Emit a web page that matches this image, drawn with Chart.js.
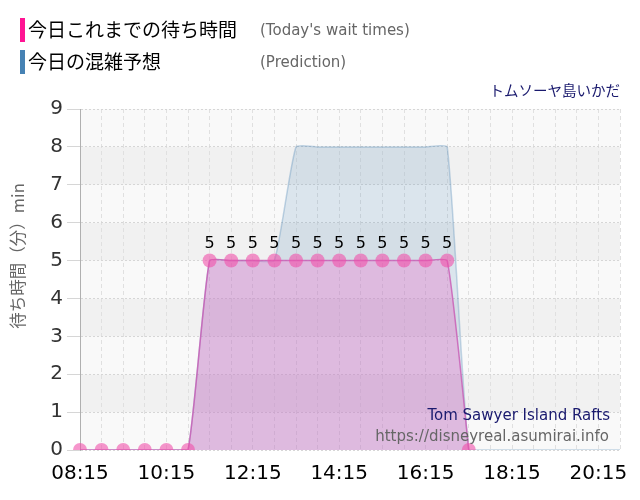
<!DOCTYPE html>
<html><head><meta charset="utf-8">
<script src="https://cdn.jsdelivr.net/npm/chart.js@4/dist/chart.umd.min.js"></script>
<style>
html,body{margin:0;padding:0;background:#fff;}
#wrap{position:relative;width:640px;height:500px;overflow:hidden;}
#c{position:absolute;left:0;top:0;}
.lg{position:absolute;left:20px;height:24px;font-family:"Noto Sans CJK JP";font-size:19px;line-height:24px;color:#000;white-space:nowrap;}
.lg .bar{position:absolute;left:0;top:0;width:5px;height:24px;}
.lg .jp{position:absolute;left:8px;top:-1px;}
.lg .en{position:absolute;left:240px;top:0;font-family:"DejaVu Sans";font-size:15px;color:#666;}
#ttl{position:absolute;right:20px;top:79px;font-family:"Noto Sans CJK JP";font-size:14.5px;color:#1a1a6e;white-space:nowrap;}
</style></head>
<body><div id="wrap">
<canvas id="c" width="640" height="500"></canvas>
<div class="lg" style="top:18px"><div class="bar" style="background:#ff1493"></div><span class="jp">今日これまでの待ち時間</span><span class="en">(Today's wait times)</span></div>
<div class="lg" style="top:50px"><div class="bar" style="background:#4682b4"></div><span class="jp">今日の混雑予想</span><span class="en">(Prediction)</span></div>
<div id="ttl">トムソーヤ島いかだ</div>
</div>
<script>
const times = ["08:15","08:45","09:15","09:45","10:15","10:45","11:15","11:45","12:15","12:45","13:15","13:45","14:15","14:45","15:15","15:45","16:15","16:45","17:15","17:45","18:15","18:45","19:15","19:45","20:15","20:45"];
const waitTimes = [0,0,0,0,0,0,5,5,5,5,5,5,5,5,5,5,5,5,0,null,null,null,null,null,null,null];
const prediction = [0,0,0,0,0,0,5,5,5,5,8,8,8,8,8,8,8,8,0,0,0,0,0,0,0,0];
const yTicks = [0,1,2,3,4,5,6,7,8,9];
const yTitle = "待ち時間（分）min";
const watermarkName = "Tom Sawyer Island Rafts";
const watermarkUrl = "https://disneyreal.asumirai.info";

const bands = {
  id:'bands',
  beforeDraw(chart){
    const {ctx, chartArea:a, scales:{y}} = chart;
    ctx.save();
    for(let v=0; v<9; v++){
      const top=y.getPixelForValue(v+1), bot=y.getPixelForValue(v);
      ctx.fillStyle = (v%2===0) ? '#f9f9f9' : '#f1f1f1';
      ctx.fillRect(a.left, top, a.right-a.left, bot-top);
    }
    ctx.restore();
  },
  afterDraw(chart){
    const {ctx} = chart;
    ctx.save();
    ctx.translate(18, 256);
    ctx.rotate(-Math.PI/2);
    ctx.font = '16.5px "Noto Sans CJK JP"';
    ctx.fillStyle = '#666';
    ctx.textAlign = 'center';
    ctx.textBaseline = 'middle';
    ctx.fillText(yTitle, 0, 0);
    ctx.restore();
  }
};
const labelsPlugin = {
  id:'vals',
  afterDatasetsDraw(chart){
    const {ctx} = chart;
    const meta = chart.getDatasetMeta(0);
    ctx.save();
    ctx.font = '16px "DejaVu Sans"';
    ctx.fillStyle = '#000';
    ctx.textAlign = 'center';
    ctx.textBaseline = 'alphabetic';
    meta.data.forEach((p,i)=>{
      const v = waitTimes[i];
      if(v!==null && v>0){ ctx.fillText(String(v), p.x, p.y-13); }
    });
    const a = chart.chartArea;
    ctx.textAlign='right';
    ctx.font='15px "DejaVu Sans"';
    ctx.fillStyle='#1a1a6e';
    ctx.fillText(watermarkName, a.right-10, a.bottom-30);
    ctx.fillStyle='#666';
    ctx.fillText(watermarkUrl, a.right-11, a.bottom-9);
    ctx.restore();
  }
};

new Chart(document.getElementById('c'), {
  type:'line',
  data:{
    labels: times,
    datasets:[
      {label:'今日これまでの待ち時間', data: waitTimes, borderColor:'rgba(200,90,180,0.8)', borderWidth:1.5,
       backgroundColor:'rgba(225,115,200,0.38)', fill:'origin', tension:0.15,
       pointRadius:7, pointBackgroundColor:'rgba(240,80,170,0.6)', pointBorderWidth:0, spanGaps:false},
      {label:'今日の混雑予想', data: prediction, borderColor:'rgba(70,130,180,0.3)', borderWidth:1.5,
       backgroundColor:'rgba(70,130,180,0.17)', fill:'origin', tension:0.15, pointRadius:0}
    ]
  },
  options:{
    responsive:false, animation:false, events:[],
    layout:{padding:{top:109,right:20,left:0,bottom:0}},
    plugins:{legend:{display:false}, tooltip:{enabled:false}},
    scales:{
      x:{
        offset:false,
        afterFit(s){ s.height = 50; },
        grid:{color:'#e0e0e0', drawTicks:false, tickLength:0},
        border:{display:false, dash:[4,3]},
        ticks:{autoSkip:false, maxRotation:0, padding:12, color:'#000', font:{family:'DejaVu Sans', size:20},
          callback(v,i){ return i%4===0 ? times[i] : ''; }}
      },
      y:{
        min:0, max:9,
        afterFit(s){ s.width = 80; },
        afterBuildTicks(s){ s.ticks = yTicks.map(v=>({value:v})); },
        grid:{color:'#d6d6d6', tickLength:13},
        border:{display:true, color:'#b0b0b0', width:1, dash:[2,2]},
        title:{display:false},
        ticks:{stepSize:1, padding:4, color:'#333', font:{family:'DejaVu Sans', size:20}}
      }
    }
  },
  plugins:[bands, labelsPlugin]
});
</script>
</body></html>
